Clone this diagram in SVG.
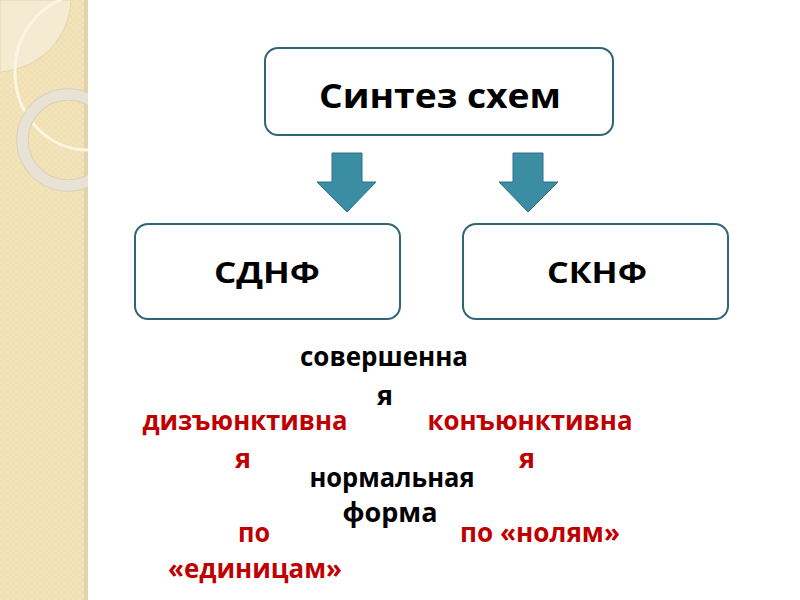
<svg xmlns="http://www.w3.org/2000/svg" width="800" height="600" viewBox="0 0 800 600">
  <defs>
    <pattern id="weave" width="6" height="6" patternUnits="userSpaceOnUse">
      <rect width="6" height="6" fill="#f3e3b8"/>
      <rect width="3" height="3" fill="#f0deb0" opacity="0.7"/>
      <rect x="3" y="3" width="3" height="3" fill="#f0deb0" opacity="0.7"/>
    </pattern>
    <clipPath id="panelClip"><rect x="0" y="0" width="88" height="600"/></clipPath>
  </defs>
  <style>
    .box { fill: #ffffff; stroke: #2e6577; stroke-width: 2; }
    .arrow { fill: #3a8da3; stroke: #2d7185; stroke-width: 1; }
    .title { font-family: "Open Sans", "Liberation Sans", sans-serif; font-weight: bold; fill: #000000; text-anchor: middle; }
    .blk { font-family: "Open Sans", "Liberation Sans", sans-serif; font-weight: bold; fill: #000000; text-anchor: middle; font-size: 27px; }
    .red { font-family: "Open Sans", "Liberation Sans", sans-serif; font-weight: bold; fill: #c00000; text-anchor: middle; font-size: 27px; }
  </style>
  <rect width="800" height="600" fill="#ffffff"/>
  <g id="side-panel">
    <rect x="0" y="0" width="88" height="600" fill="url(#weave)"/>
    <rect x="84" y="0" width="4" height="600" fill="#e2d3ad"/>
    <g clip-path="url(#panelClip)">
      <path d="M0,0 H71 C69,38 42,68 0,72 Z" fill="#f5ebd2" stroke="#e4d5b0" stroke-width="1"/>
      <ellipse cx="88" cy="72" rx="73" ry="78" fill="none" stroke="#fbf5e3" stroke-width="3"/>
      <circle cx="68" cy="140" r="45.5" fill="none" stroke="#d8d0bd" stroke-width="12.5"/>
      <circle cx="68" cy="140" r="45.5" fill="none" stroke="#e7e2d3" stroke-width="10.5"/>
    </g>
  </g>
  <g id="connectors">
    <path class="arrow" d="M332,153 H362 V182 H376 L347,212 L317,182 H332 Z"/>
    <path class="arrow" d="M513,153 H543 V182 H558 L528,212 L499,182 H513 Z"/>
  </g>
  <g id="node-synthesis">
    <rect class="box" x="265" y="48" width="348" height="87" rx="13"/>
    <text class="title" x="440" y="108" font-size="34" textLength="242" lengthAdjust="spacingAndGlyphs">Синтез схем</text>
  </g>
  <g id="node-sdnf">
    <rect class="box" x="135" y="224" width="265" height="95" rx="13"/>
    <text class="title" x="267" y="283" font-size="28" textLength="106" lengthAdjust="spacingAndGlyphs">СДНФ</text>
  </g>
  <g id="node-sknf">
    <rect class="box" x="463" y="224" width="265" height="95" rx="13"/>
    <text class="title" x="597" y="283" font-size="28" textLength="100" lengthAdjust="spacingAndGlyphs">СКНФ</text>
  </g>
  <g id="labels">
    <text class="blk" x="384" y="366" textLength="168" lengthAdjust="spacingAndGlyphs">совершенна</text>
    <text class="blk" x="385" y="405">я</text>
    <text class="red" x="245" y="430" textLength="205" lengthAdjust="spacingAndGlyphs">дизъюнктивна</text>
    <text class="red" x="243" y="468">я</text>
    <text class="red" x="530" y="430" textLength="205" lengthAdjust="spacingAndGlyphs">конъюнктивна</text>
    <text class="red" x="527" y="468">я</text>
    <text class="blk" x="392" y="487" textLength="165" lengthAdjust="spacingAndGlyphs">нормальная</text>
    <text class="blk" x="390" y="522" textLength="95" lengthAdjust="spacingAndGlyphs">форма</text>
    <text class="red" x="254" y="542" textLength="32" lengthAdjust="spacingAndGlyphs">по</text>
    <text class="red" x="255" y="578" textLength="174" lengthAdjust="spacingAndGlyphs">«единицам»</text>
    <text class="red" x="540" y="542" textLength="160" lengthAdjust="spacingAndGlyphs">по «нолям»</text>
  </g>
</svg>
